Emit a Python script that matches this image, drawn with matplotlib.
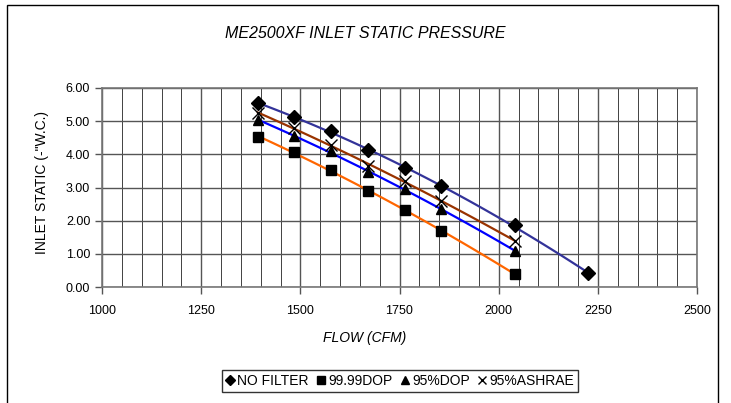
import numpy as np
import matplotlib.pyplot as plt
from matplotlib.patches import Rectangle

plt.rcParams['font.family'] = ['Liberation Sans', 'DejaVu Sans']

# data
flow = [1393, 1485, 1578, 1670, 1763, 1855, 2042]
flow_nofilter = flow + [2225]
no_filter = [5.54, 5.14, 4.69, 4.12, 3.59, 3.04, 1.86, 0.41]
dop_9999 = [4.52, 4.06, 3.54, 2.89, 2.31, 1.69, 0.39]
dop_95 = [5.04, 4.54, 4.09, 3.46, 2.94, 2.34, 1.09]
ashrae_95 = [5.24, 4.79, 4.29, 3.66, 3.19, 2.59, 1.39]

xticks = [1000, 1250, 1500, 1750, 2000, 2250, 2500]
yticks = [0, 1, 2, 3, 4, 5, 6]

fig = plt.figure(figsize=(7.31, 4.03), dpi=100)
W, H = 731, 403
ax = fig.add_axes([102 / W, 1 - 287 / H, (697 - 102) / W, (287 - 88) / H])

# outer chart border
fig.patches.append(Rectangle((7 / W, -0.05), (718 - 7) / W, 1 - 5 / H + 0.05,
                             transform=fig.transFigure, fill=False,
                             edgecolor='black', linewidth=1.0))

series = [
    (flow_nofilter, no_filter, 'D', '#333399', 'NO FILTER', 7),
    (flow, dop_9999, 's', '#FF6600', '99.99DOP', 7),
    (flow, dop_95, '^', '#0000FF', '95%DOP', 7),
    (flow, ashrae_95, 'x', '#993300', '95%ASHRAE', 8),
]

handles = []
for xs, ys, mk, col, lab, ms in series:
    xs = np.array(xs, dtype=float)
    # trendline (2nd order fit like a spreadsheet trendline)
    c = np.polyfit(xs, ys, 2)
    xf = np.linspace(xs.min(), xs.max(), 100)
    ax.plot(xf, np.polyval(c, xf), color=col, linewidth=1.6, zorder=3)
    h = ax.plot(xs, ys, linestyle='none', marker=mk, color='black',
                markersize=ms, markeredgewidth=1.0,
                label=lab, zorder=4)[0]
    handles.append(h)

ax.set_xlim(1000, 2500)
ax.set_ylim(0, 6)
ax.set_xticks(xticks)
ax.set_xticks(np.arange(1000, 2501, 50), minor=True)
ax.set_yticks(yticks)
ax.set_yticklabels([f'{v:.2f}' for v in yticks])
ax.grid(True, which='major', color='#555555', linewidth=1.0)
ax.grid(True, which='minor', axis='x', color='#222222', linewidth=0.6)
ax.tick_params(which='major', direction='out', length=5, width=1,
               labelsize=9, color='#555555')
ax.tick_params(which='minor', length=0)
ax.tick_params(axis='x', pad=8)
for s in ax.spines.values():
    s.set_color('#777777')
    s.set_linewidth(1.2)
ax.set_axisbelow(True)

fig.text(365 / W, 1 - 33 / H, 'ME2500XF INLET STATIC PRESSURE',
         ha='center', va='center', fontsize=11.5, style='italic')
fig.text(365 / W, 1 - 338 / H, 'FLOW (CFM)', ha='center', va='center',
         fontsize=10, style='italic')
fig.text(42 / W, 1 - 183 / H, 'INLET STATIC (-"W.C.)', ha='center',
         va='center', rotation=90, fontsize=10)

leg = fig.legend(handles=handles, loc='center', bbox_to_anchor=(400 / W, 1 - 381 / H),
                 ncol=4, frameon=True, fancybox=False, fontsize=10,
                 handlelength=0.6, handletextpad=0.2, columnspacing=0.6,
                 borderpad=0.3, markerscale=0.8)
leg.get_frame().set_edgecolor('black')
leg.get_frame().set_linewidth(1.0)

fig.savefig('out.png', dpi=100)
